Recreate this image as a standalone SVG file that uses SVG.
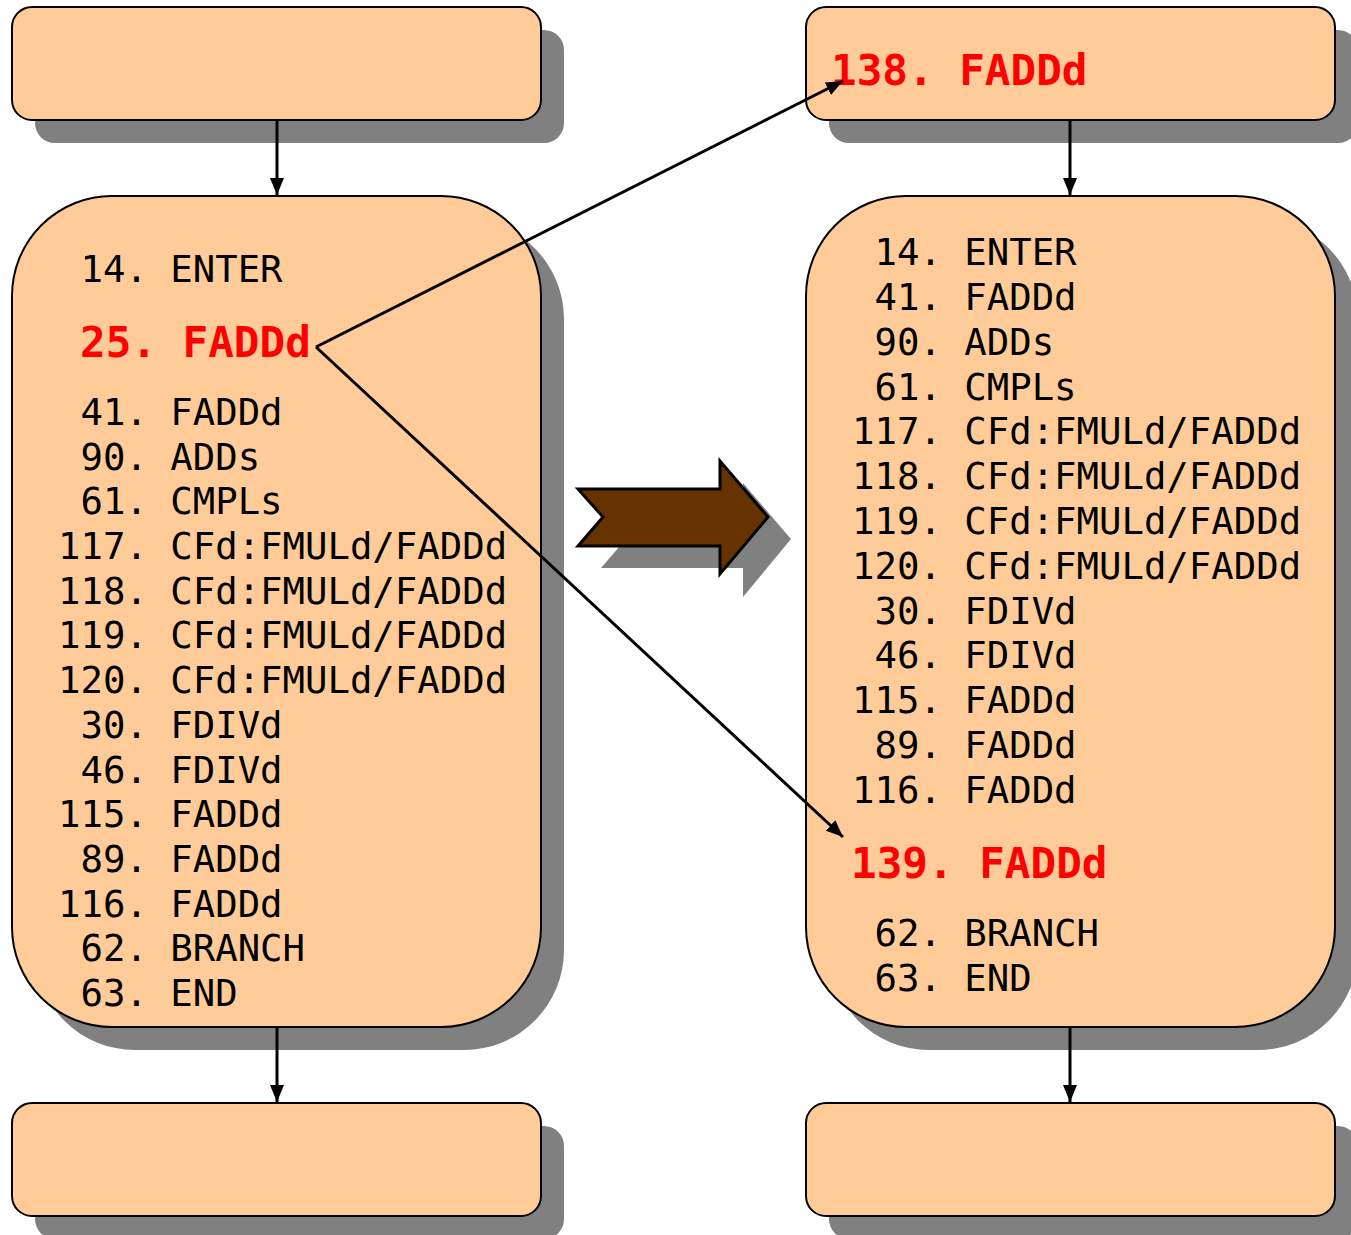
<svg xmlns="http://www.w3.org/2000/svg" width="1351" height="1235" viewBox="0 0 1351 1235">
<style>
.box{fill:#FFCC99;stroke:#000;stroke-width:2}
.sh{fill:#808080}
.t{font-family:"DejaVu Sans Mono","Liberation Mono",monospace;font-size:37.3px;fill:#000;white-space:pre}
.r{font-family:"DejaVu Sans Mono","Liberation Mono",monospace;font-size:42.6px;font-weight:bold;fill:#FF0000;white-space:pre}
.c{stroke:#000;stroke-width:3;fill:none}
</style>
<defs>
<marker id="ah" markerUnits="userSpaceOnUse" markerWidth="18" markerHeight="14" refX="17" refY="7" orient="auto">
<path d="M0,0 L17,7 L0,14 z" fill="#000"/>
</marker>
</defs>
<g id="node-top-left">
<rect class="sh" x="35" y="30" width="529" height="113" rx="20"/>
<rect class="box" x="12" y="7" width="529" height="113" rx="20"/>
</g>
<g id="node-top-right">
<rect class="sh" x="829" y="30" width="529" height="113" rx="20"/>
<rect class="box" x="806" y="7" width="529" height="113" rx="20"/>
<text class="r" x="831" y="85">138. FADDd</text>
</g>
<g id="node-main-left">
<rect class="sh" x="35" y="219" width="529" height="831" rx="100"/>
<rect class="box" x="12" y="196" width="529" height="831" rx="100"/>
<text class="t" x="58" y="282"> 14. ENTER</text>
<text class="r" x="80" y="357">25. FADDd</text>
<text class="t" x="58" y="425"> 41. FADDd</text>
<text class="t" x="58" y="470"> 90. ADDs</text>
<text class="t" x="58" y="514"> 61. CMPLs</text>
<text class="t" x="58" y="559">117. CFd:FMULd/FADDd</text>
<text class="t" x="58" y="604">118. CFd:FMULd/FADDd</text>
<text class="t" x="58" y="648">119. CFd:FMULd/FADDd</text>
<text class="t" x="58" y="693">120. CFd:FMULd/FADDd</text>
<text class="t" x="58" y="738"> 30. FDIVd</text>
<text class="t" x="58" y="783"> 46. FDIVd</text>
<text class="t" x="58" y="827">115. FADDd</text>
<text class="t" x="58" y="872"> 89. FADDd</text>
<text class="t" x="58" y="917">116. FADDd</text>
<text class="t" x="58" y="961"> 62. BRANCH</text>
<text class="t" x="58" y="1006"> 63. END</text>
</g>
<g id="node-main-right">
<rect class="sh" x="829" y="219" width="529" height="831" rx="100"/>
<rect class="box" x="806" y="196" width="529" height="831" rx="100"/>
<text class="t" x="852" y="265"> 14. ENTER</text>
<text class="t" x="852" y="310"> 41. FADDd</text>
<text class="t" x="852" y="355"> 90. ADDs</text>
<text class="t" x="852" y="400"> 61. CMPLs</text>
<text class="t" x="852" y="444">117. CFd:FMULd/FADDd</text>
<text class="t" x="852" y="489">118. CFd:FMULd/FADDd</text>
<text class="t" x="852" y="534">119. CFd:FMULd/FADDd</text>
<text class="t" x="852" y="579">120. CFd:FMULd/FADDd</text>
<text class="t" x="852" y="624"> 30. FDIVd</text>
<text class="t" x="852" y="668"> 46. FDIVd</text>
<text class="t" x="852" y="713">115. FADDd</text>
<text class="t" x="852" y="758"> 89. FADDd</text>
<text class="t" x="852" y="803">116. FADDd</text>
<text class="r" x="851" y="878">139. FADDd</text>
<text class="t" x="852" y="946"> 62. BRANCH</text>
<text class="t" x="852" y="991"> 63. END</text>
</g>
<g id="node-bottom-left">
<rect class="sh" x="35" y="1126" width="529" height="113" rx="20"/>
<rect class="box" x="12" y="1103" width="529" height="113" rx="20"/>
</g>
<g id="node-bottom-right">
<rect class="sh" x="829" y="1126" width="529" height="113" rx="20"/>
<rect class="box" x="806" y="1103" width="529" height="113" rx="20"/>
</g>
<g id="big-arrow">
<polygon class="sh" points="601,568 743,568 743,597 791,539 743,483 743,511 601,511 626,539"/>
<polygon points="578,489 720,489 720,461 768,517 720,574 720,546 578,546 603,517" fill="#663300" stroke="#000" stroke-width="3" stroke-linejoin="miter"/>
</g>
<g id="connectors">
<line class="c" x1="277" y1="120" x2="277" y2="195" marker-end="url(#ah)"/>
<line class="c" x1="1070" y1="120" x2="1070" y2="195" marker-end="url(#ah)"/>
<line class="c" x1="277" y1="1027" x2="277" y2="1102" marker-end="url(#ah)"/>
<line class="c" x1="1070" y1="1027" x2="1070" y2="1102" marker-end="url(#ah)"/>
<line class="c" x1="316" y1="347" x2="843" y2="81" marker-end="url(#ah)"/>
<line class="c" x1="316" y1="347" x2="843" y2="837" marker-end="url(#ah)"/>
</g>
</svg>
